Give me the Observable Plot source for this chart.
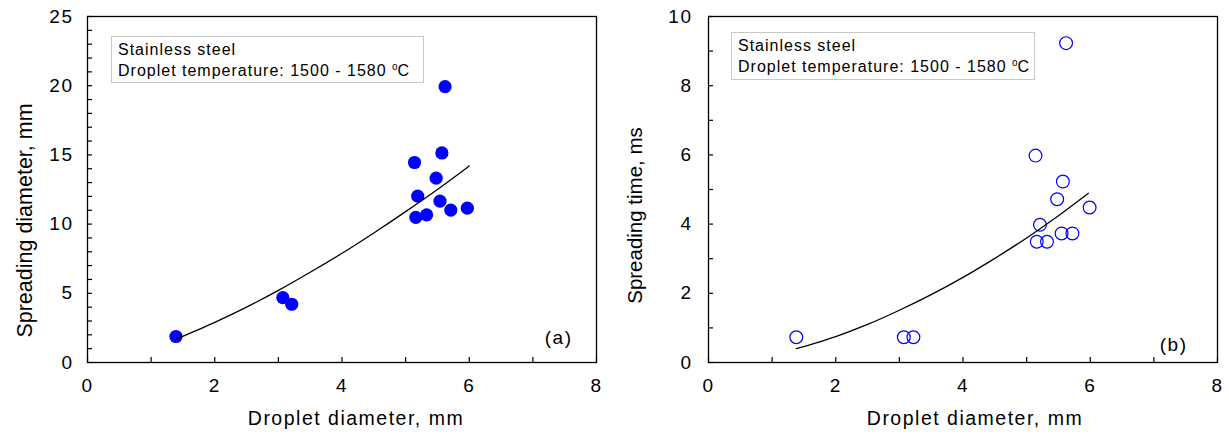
<!DOCTYPE html>
<html>
<head>
<meta charset="utf-8">
<script src="https://cdn.jsdelivr.net/npm/d3@7"></script>
<script src="https://cdn.jsdelivr.net/npm/@observablehq/plot@0.6"></script>
<style>
  body { margin: 0; background: #fff; font-family: "Liberation Sans", Arial, sans-serif; }
  #wrap { position: relative; width: 1229px; height: 434px; overflow: hidden; background: #fff; }
  .panel { position: absolute; top: 0; }
  .legend { position: absolute; border: 1px solid #c8c8c8; background: #fff; font-size: 16px; line-height: 21px; letter-spacing: 1px; color: #000; padding: 2px 0 0 6px; box-sizing: border-box; white-space: nowrap; }
  .legend sup { font-size: 10px; vertical-align: 6px; line-height: 0; letter-spacing: 0; }
</style>
</head>
<body>
<div id="wrap">
  <div class="panel" id="pa" style="left:0px"></div>
  <div class="panel" id="pb" style="left:620px"></div>
  <div class="legend" style="left:111px; top:36px; width:313px; height:47px;">Stainless steel<br>Droplet temperature: 1500 - 1580 <sup>o</sup>C</div>
  <div class="legend" style="left:731px; top:32px; width:304px; height:48px;">Stainless steel<br>Droplet temperature: 1500 - 1580 <sup>o</sup>C</div>
</div>
<script>
// ---- Data ----
const dropletDiameter = [1.39, 3.07, 3.21, 5.14, 5.57, 5.62, 5.48, 5.19, 5.54, 5.16, 5.33, 5.71, 5.97];
const spreadingDiameter = [1.88, 4.69, 4.21, 14.45, 15.14, 19.93, 13.32, 12.02, 11.66, 10.48, 10.67, 11.01, 11.15];

const dropletDiameterB = [1.38, 3.07, 3.22, 5.14, 5.62, 5.57, 5.48, 5.99, 5.21, 5.16, 5.32, 5.55, 5.72];
const spreadingTime = [0.73, 0.73, 0.73, 5.98, 9.23, 5.23, 4.72, 4.48, 3.98, 3.49, 3.49, 3.73, 3.73];

const fitX_a = [1.4, 2.0, 2.5, 3.0, 3.5, 4.0, 4.5, 5.0, 5.5, 6.0];
const fitY_a = [1.70, 2.90, 4.00, 5.21, 6.52, 7.89, 9.36, 10.9, 12.5, 14.2];

const fitX_b = [1.38, 2.0, 2.5, 3.0, 3.5, 4.0, 4.5, 5.0, 5.5, 5.97];
const fitY_b = [0.40, 0.75, 1.10, 1.51, 1.96, 2.46, 3.01, 3.60, 4.24, 4.89];

const xMinorTicks = [0, 1, 2, 3, 4, 5, 6, 7, 8];
const xMajorTicks = [0, 2, 4, 6, 8];
const yMinorTicksA = d3.range(0, 26);
const yMajorTicksA = [0, 5, 10, 15, 20, 25];
const yMinorTicksB = d3.range(0, 11);
const yMajorTicksB = [0, 2, 4, 6, 8, 10];

const xLabel = "Droplet diameter, mm";
const yLabelA = "Spreading diameter, mm";
const yLabelB = "Spreading time, ms";

const ptsA = dropletDiameter.map((x, i) => ({x, y: spreadingDiameter[i]}));
const ptsB = dropletDiameterB.map((x, i) => ({x, y: spreadingTime[i]}));
const fitA = fitX_a.map((x, i) => ({x, y: fitY_a[i]}));
const fitB = fitX_b.map((x, i) => ({x, y: fitY_b[i]}));

const font = "'Liberation Sans', Arial, sans-serif";

function panel(o) {
  const svg = Plot.plot({
    width: o.width, height: 434,
    marginLeft: o.marginLeft, marginRight: o.marginRight, marginTop: 16, marginBottom: 72,
    style: {fontFamily: font, fontSize: "19px", color: "#000", background: "transparent", overflow: "visible"},
    x: {domain: [0, 8]},
    y: {domain: o.yDomain},
    marks: [
      Plot.frame({stroke: "#000", strokeWidth: 1.3}),
      Plot.axisX({ticks: xMinorTicks, tickSize: -5, tickFormat: () => "", label: null, stroke: "#000", strokeWidth: 1.2}),
      Plot.axisX({ticks: xMajorTicks, tickSize: 0, tickPadding: 16, label: null, fontSize: 19, fill: "#000"}),
      Plot.axisY({ticks: o.yMinor, tickSize: -5, tickFormat: () => "", label: null, stroke: "#000", strokeWidth: 1.2}),
      Plot.axisY({ticks: o.yMajor, tickSize: 0, tickPadding: o.yPad, label: null, fontSize: 19, fill: "#000"}),
      o.filled
        ? Plot.dot(o.pts, {x: "x", y: "y", r: 6.6, fill: "#0000ff", stroke: "none"})
        : Plot.dot(o.pts, {x: "x", y: "y", r: 6.4, fill: "none", stroke: "#0000ff", strokeWidth: 1.2}),
      Plot.line(o.fit, {x: "x", y: "y", curve: "catmull-rom", stroke: "#000", strokeWidth: 1.3}),
      Plot.text([o.tag], {frameAnchor: "bottom-right", text: d => d, lineAnchor: "middle", dx: o.tagDx, dy: o.tagDy, fontSize: 19, fill: "#000"}),
      Plot.text([xLabel], {frameAnchor: "bottom", text: d => d, lineAnchor: "middle", dx: o.xLabDx, dy: 56, fontSize: 19.5, fill: "#000"}),
      Plot.text([o.yLabel], {frameAnchor: "left", text: d => d, rotate: -90, textAnchor: "middle", lineAnchor: "middle", dx: o.yLabDx, dy: o.yLabDy, fontSize: o.yLabSize, fill: "#000"})
    ]
  });
  // horizontal text in the reference is slightly wide: widen with letter spacing
  d3.select(svg).selectAll("text").each(function() {
    const t = this.getAttribute("transform") || "";
    const rotated = t.includes("rotate");
    this.style.letterSpacing = rotated ? "0px" : "1.5px";
  });
  return svg;
}

document.getElementById("pa").append(panel({
  width: 620, marginLeft: 87, marginRight: 24,
  yDomain: [0, 25], yMinor: yMinorTicksA, yMajor: yMajorTicksA, yPad: 14,
  pts: ptsA, fit: fitA, filled: true, yLabel: yLabelA, yLabSize: 21.5, tag: "(a)",
  tagDx: -24, tagDy: -25, xLabDx: 14, yLabDx: -62, yLabDy: 31
}));

document.getElementById("pb").append(panel({
  width: 609, marginLeft: 88, marginRight: 12,
  yDomain: [0, 10], yMinor: yMinorTicksB, yMajor: yMajorTicksB, yPad: 16,
  pts: ptsB, fit: fitB, filled: false, yLabel: yLabelB, yLabSize: 20.5, tag: "(b)",
  tagDx: -30, tagDy: -18, xLabDx: 12, yLabDx: -73, yLabDy: 26
}));
</script>
</body>
</html>
